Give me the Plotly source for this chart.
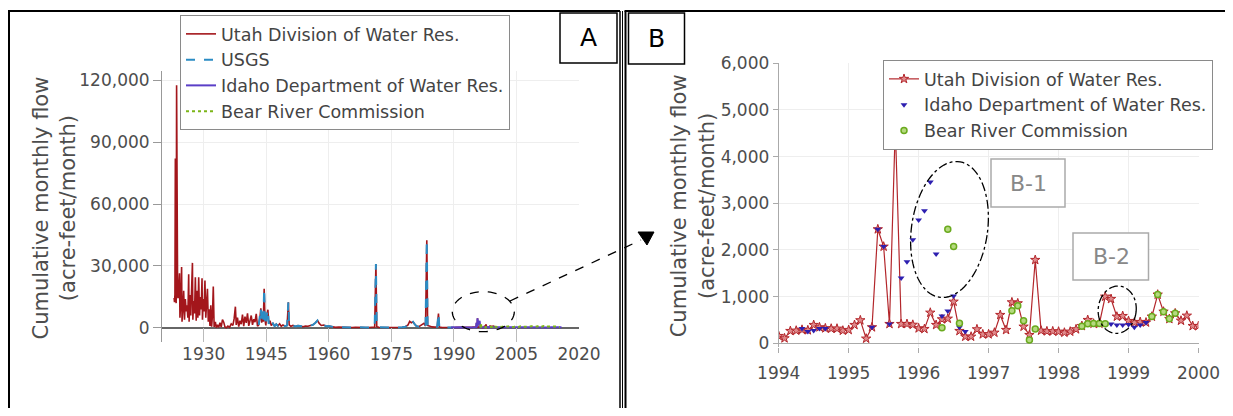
import numpy as np
import plotly.graph_objects as go

# The page keeps the browser's 8px body margin, so the figure is 16px smaller than the window
# and every position below is given in window pixels, shifted by that margin.
PAGE_W, PAGE_H, MARGIN = 1233, 416, 8
FW, FH = PAGE_W - 2 * MARGIN, PAGE_H - 2 * MARGIN
FONT = "DejaVu Sans"
TXT = "#4d4d4d"

# ---------------- Panel A data (decimal year, acre-feet/month) ----------------
utah_early_year = [1922.9, 1923.0, 1923.1, 1923.2, 1923.3, 1923.4, 1923.5, 1923.6, 1923.75, 1923.9,
                   1924.0, 1924.2, 1924.3, 1924.5, 1924.7, 1924.8,
                   1925.0, 1925.2, 1925.4, 1925.6, 1925.8,
                   1926.0, 1926.2, 1926.4, 1926.5, 1926.7, 1926.9,
                   1927.1, 1927.3, 1927.4, 1927.6, 1927.8,
                   1928.0, 1928.2, 1928.4, 1928.6, 1928.8,
                   1929.0, 1929.2, 1929.4, 1929.6, 1929.7, 1929.9,
                   1930.1, 1930.3, 1930.5, 1930.7, 1930.9,
                   1931.1, 1931.3, 1931.5, 1931.7, 1931.9,
                   1932.1, 1932.3, 1932.5, 1932.8,
                   1933.0, 1933.3, 1933.6, 1933.9,
                   1934.2, 1934.5, 1934.8,
                   1935.1, 1935.4, 1935.8,
                   1936.2, 1936.6,
                   1937.0, 1937.3, 1937.6, 1937.8,
                   1938.1, 1938.4, 1938.7,
                   1939.0, 1939.3, 1939.6, 1939.9,
                   1940.2, 1940.5, 1940.8,
                   1941.1, 1941.4, 1941.7,
                   1942.0, 1942.3, 1942.6, 1942.9]
utah_early_flow = [14500, 12500, 16000, 82000, 15000, 12000, 117500, 30000, 15000, 14500,
                   22000, 26500, 5000, 12000, 29500, 3000,
                   9000, 18000, 4000, 14000, 8000,
                   11000, 5000, 26000, 3000, 16000, 6000,
                   20000, 31500, 4000, 13000, 7000,
                   24500, 3500, 18000, 5000, 24500,
                   6000, 15000, 9000, 24000, 4000, 14000,
                   8000, 23000, 5000, 12000, 19000,
                   3000, 9000, 1000, 11000, 600,
                   6000, 20000, 500, 3000,
                   200, 1500, 300, 2500,
                   400, 4000, 2800,
                   500, 100, 900,
                   300, 2000,
                   1200, 4500, 10300, 1500,
                   5000, 600, 3500,
                   1800, 6500, 900, 5500,
                   2500, 7100, 1000,
                   3800, 6000, 1500,
                   4200, 2800, 6800, 900]

usgs_year = [1943.2, 1943.5, 1943.7, 1943.9, 1944.1, 1944.3, 1944.5, 1944.7, 1944.9,
             1945.1, 1945.4, 1945.6, 1945.9, 1946.2, 1946.6, 1947.0, 1947.4, 1947.8,
             1948.2, 1948.6, 1949.0, 1949.5, 1950.0, 1950.3, 1950.5, 1950.9, 1951.4,
             1952.0, 1952.6, 1953.2, 1953.8, 1954.4, 1955.0, 1955.6, 1956.2, 1956.8,
             1957.3, 1957.7, 1958.2, 1958.8, 1959.4, 1960.0, 1960.8, 1961.6, 1962.4,
             1963.2, 1964.0, 1964.8, 1965.6, 1966.4, 1967.2, 1968.0, 1968.8, 1969.6,
             1970.4, 1971.0, 1971.3, 1971.5, 1972.0, 1972.8, 1973.6, 1974.4, 1975.2,
             1976.0, 1976.8, 1977.6, 1978.4, 1979.0, 1979.4, 1979.8, 1980.2, 1980.6,
             1981.0, 1981.6, 1982.2, 1982.8, 1983.2, 1983.5, 1983.7, 1984.2, 1984.8,
             1985.4, 1986.0, 1986.3, 1986.5, 1987.0, 1987.8, 1988.6, 1989.4, 1990.0]
usgs_flow = [1500, 5200, 9500, 2500, 7800, 3000, 19000, 4000, 1200,
             6000, 8800, 2000, 3500, 1200, 2200, 900, 1800, 1000,
             2000, 800, 1500, 900, 1200, 12400, 1500, 800, 1200,
             700, 1100, 900, 600, 900, 800, 1200, 1500, 2500,
             3600, 2200, 1200, 1400, 800, 900, 500, 300, 400,
             300, 200, 300, 250, 350, 200, 300, 250, 200,
             300, 400, 31000, 600, 300, 250, 400, 300, 200,
             300, 250, 300, 600, 1500, 3200, 2500, 3000, 1800,
             900, 600, 1200, 2200, 900, 42500, 1200, 700, 500,
             400, 600, 7000, 500, 300, 200, 300, 200, 250]

utah_mid_year = [1990.5, 1991.2, 1992.0, 1992.8, 1993.5]
utah_mid_flow = [300, 250, 200, 300, 250]

idaho_pre_year = [1989.3, 1989.8, 1990.3, 1990.8, 1991.3, 1991.8, 1992.3, 1992.8, 1993.3, 1993.8]
idaho_pre_flow = [280, 350, 260, 300, 240, 320, 270, 310, 250, 290]
idaho_post_year = [1999.6, 2000.2, 2000.8, 2001.5, 2002.2, 2003.0, 2003.8, 2004.6, 2005.4, 2006.2, 2007.0,
                   2007.8, 2008.6, 2009.4, 2010.2, 2011.0, 2011.8, 2012.6, 2013.4, 2014.2, 2015.0, 2015.8]
idaho_post_flow = [380, 300, 350, 280, 320, 260, 300, 350, 280, 330, 270,
                   310, 360, 290, 340, 420, 300, 260, 310, 280, 330, 290]

brc_post_year = [2000.0, 2000.5, 2001.0, 2001.5, 2002.0, 2002.5, 2003.0, 2003.5, 2004.0, 2004.5, 2005.0,
                 2005.5, 2006.0, 2006.5, 2007.0, 2007.5, 2008.0, 2008.5, 2009.0, 2009.5, 2010.0, 2010.5,
                 2011.0, 2011.5, 2012.0, 2012.5, 2013.0, 2013.5, 2014.0, 2014.5, 2015.0, 2015.4]
brc_post_flow = [600, 450, 700, 500, 800, 550, 650, 900, 500, 600, 750,
                 450, 850, 600, 500, 700, 550, 800, 650, 500, 700, 1100,
                 600, 900, 500, 650, 750, 500, 600, 700, 550, 450]

# ---------------- Panel B data (monthly, Jan 1994 - Jan 2000) ----------------
utah_b_flow = [157, 107, 264, 271, 290, 280, 393, 343, 321, 314, 314, 271,
               286, 393, 493, 100, 343, 2443, 2072, 414, 4650, 414, 414, 397,
               321, 307, 656, 393, 514, 528, 892, 264, 142, 142, 300, 193,
               193, 228, 607, 286, 878, 857, 357, 178, 1786, 271, 257, 257,
               250, 228, 250, 300, 371, 500, 421, 421, 1000, 950, 571, 585,
               478, 442, 457, 446, 571, 1043, 678, 521, 642, 485, 592, 371,
               371]
idaho_b_month = ['1994-05', '1994-06', '1994-07', '1994-08', '1994-09',
                 '1995-05', '1995-06', '1995-07', '1995-08', '1995-09', '1995-10', '1995-11', '1995-12',
                 '1996-01', '1996-02', '1996-03', '1996-04', '1996-05', '1996-06', '1996-07', '1996-08', '1996-09',
                 '1998-10', '1998-11', '1998-12', '1999-01', '1999-02', '1999-03', '1999-04']
idaho_b_flow = [314, 250, 271, 314, 314,
                343, 2443, 2072, 414, 4650, 1400, 1749, 2221,
                2642, 2842, 3457, 1913, 585, 692, 1013, 343, 250,
                414, 392, 392, 403, 343, 392, 446]
brc_b_month = ['1996-05', '1996-06', '1996-07', '1996-08',
               '1997-05', '1997-06', '1997-07', '1997-08', '1997-09',
               '1998-05', '1998-06', '1998-07', '1998-08', '1998-09',
               '1999-05', '1999-06', '1999-07', '1999-08', '1999-09']
brc_b_flow = [335, 2443, 2072, 428,
              696, 804, 485, 71, 304,
              364, 417, 425, 425, 417,
              571, 1046, 678, 528, 642]

names = ["Utah Division of Water Res.", "USGS", "Idaho Department of Water Res.", "Bear River Commission"]
a_ticks = [1930, 1945, 1960, 1975, 1990, 2005, 2020]


def dec(m):
    y, mo = m.split('-')
    return int(y) + (int(mo) - 1) / 12


utah_b_year = [1994 + i / 12 for i in range(len(utah_b_flow))]
idaho_b_year = [dec(m) for m in idaho_b_month]
brc_b_year = [dec(m) for m in brc_b_month]

utah_a_year = utah_early_year + usgs_year + utah_mid_year + utah_b_year
utah_a_flow = utah_early_flow + usgs_flow + utah_mid_flow + utah_b_flow
idaho_a_year = idaho_pre_year + idaho_b_year + idaho_post_year
idaho_a_flow = idaho_pre_flow + idaho_b_flow + idaho_post_flow
brc_a_year = brc_b_year + brc_post_year
brc_a_flow = brc_b_flow + brc_post_flow

RED, BLUE, PURPLE, GREEN = "#a3161b", "#2b8cc4", "#5b3fc7", "#7cb518"


def px(x):
    return min(1.0, max(0.0, (x - MARGIN) / FW))


def py(y):
    return min(1.0, max(0.0, 1 - (y - MARGIN) / FH))


fig = go.Figure()
# Panel A
fig.add_trace(go.Scatter(x=utah_a_year, y=utah_a_flow, mode='lines', name=names[0],
                         line=dict(color=RED, width=1.6), xaxis='x', yaxis='y', legend='legend'))
fig.add_trace(go.Scatter(x=usgs_year, y=usgs_flow, mode='lines', name=names[1],
                         line=dict(color=BLUE, width=2, dash='dash'), xaxis='x', yaxis='y', legend='legend'))
fig.add_trace(go.Scatter(x=idaho_a_year, y=idaho_a_flow, mode='lines', name=names[2],
                         line=dict(color=PURPLE, width=2), xaxis='x', yaxis='y', legend='legend'))
fig.add_trace(go.Scatter(x=brc_a_year, y=brc_a_flow, mode='lines', name=names[3],
                         line=dict(color=GREEN, width=2, dash='dot'), xaxis='x', yaxis='y', legend='legend'))
# Panel B
fig.add_trace(go.Scatter(x=utah_b_year, y=utah_b_flow, mode='lines+markers', name=names[0],
                         line=dict(color="#b3262b", width=1.2),
                         marker=dict(symbol='star', size=7, color="#e08a8c", line=dict(color="#b3262b", width=1)),
                         xaxis='x2', yaxis='y2', legend='legend2'))
fig.add_trace(go.Scatter(x=idaho_b_year, y=idaho_b_flow, mode='markers', name=names[2],
                         marker=dict(symbol='triangle-down', size=6, color="#2d1fb0"),
                         xaxis='x2', yaxis='y2', legend='legend2'))
fig.add_trace(go.Scatter(x=brc_b_year, y=brc_b_flow, mode='markers', name=names[3],
                         marker=dict(symbol='circle', size=6, color="#b5d97f", line=dict(color="#6aaa1e", width=1.5)),
                         xaxis='x2', yaxis='y2', legend='legend2'))

tickfont = dict(family=FONT, size=17, color=TXT)
legfont = dict(family=FONT, size=17.5, color="#444444")

fig.update_layout(
    width=FW, height=FH, autosize=False, margin=dict(l=0, r=0, t=0, b=0, pad=0, autoexpand=False),
    paper_bgcolor='white', plot_bgcolor='white',
    font=dict(family=FONT, color=TXT),
    xaxis=dict(domain=[px(162), px(579)], range=[1920, 2020], tickmode='array', tickvals=a_ticks,
               showgrid=True, gridcolor='#eeeeee', zeroline=False, showline=False, automargin=False,
               ticks='inside', ticklen=14, tickcolor='#bbbbbb', tickfont=tickfont, anchor='y'),
    yaxis=dict(domain=[py(342), py(71)], range=[-6800, 124400], tick0=0, dtick=30000, tickformat=',',
               showgrid=True, gridcolor='#eeeeee', zeroline=True, zerolinecolor='#666666', zerolinewidth=1.5,
               showline=True, linecolor='#999999', linewidth=1, ticks='outside', ticklen=8, automargin=False,
               tickcolor='#999999', tickfont=tickfont, anchor='x'),
    xaxis2=dict(domain=[px(778.7), px(1198.5)], range=[1994, 2000], dtick=1, tick0=1994,
                showgrid=True, gridcolor='#eeeeee', zeroline=False, showline=False, automargin=False,
                ticks='outside', ticklen=5, tickcolor='#aaaaaa', tickfont=tickfont,
                ticklabelstandoff=6, anchor='y2'),
    yaxis2=dict(domain=[py(347), py(63.3)], range=[-80, 6000], tick0=0, dtick=1000, tickformat=',',
                showgrid=True, gridcolor='#eeeeee', zeroline=True, zerolinecolor='#aaaaaa', zerolinewidth=1,
                showline=True, linecolor='#aaaaaa', linewidth=1, ticks='outside', ticklen=5, automargin=False,
                tickcolor='#aaaaaa', tickfont=tickfont, anchor='x2'),
    legend=dict(x=px(180), y=py(15), xanchor='left', yanchor='top', bgcolor='white',
                bordercolor='#8a8a8a', borderwidth=1, font=legfont, itemwidth=30, tracegroupgap=0),
    legend2=dict(x=px(883), y=py(60), xanchor='left', yanchor='top', bgcolor='white',
                 bordercolor='#8a8a8a', borderwidth=1, font=legfont, itemwidth=30, tracegroupgap=0),
    showlegend=True,
)


def ellipse_path(cx, cy, rx, ry, tilt_deg, n=90):
    a = np.deg2rad(tilt_deg)
    th = np.linspace(0, 2 * np.pi, n)
    ex, ey = rx * np.cos(th), ry * np.sin(th)
    xs = cx + ex * np.cos(a) - ey * np.sin(a)
    ys = cy + ex * np.sin(a) + ey * np.cos(a)
    pts = [f"{px(x):.5f},{py(y):.5f}" for x, y in zip(xs, ys)]
    return "M " + " L ".join(pts) + " Z"


def rect(x0, y0, x1, y1, color='black', width=1.5, fill='rgba(0,0,0,0)'):
    return dict(type='rect', xref='paper', yref='paper', x0=px(x0), x1=px(x1), y0=py(y0), y1=py(y1),
                line=dict(color=color, width=width), fillcolor=fill, layer='above')


def seg(x0, y0, x1, y1, width=2, dash='solid'):
    return dict(type='line', xref='paper', yref='paper', x0=px(x0), x1=px(x1), y0=py(y0), y1=py(y1),
                line=dict(color='black', width=width, dash=dash))


shapes = [
    # panel frames (open at the bottom / right, as in the picture)
    seg(9, 11, 9, 416), seg(8, 11, 620, 11), seg(620, 11, 620, 416, width=1.5),
    seg(622.5, 11, 622.5, 416, width=1),
    seg(625.5, 11, 625.5, 416), seg(624.5, 11, 1233, 11),
    rect(560, 13, 617, 63, width=1.5, fill='white'),
    rect(628.5, 13, 684.5, 64, width=1.5, fill='white'),
    rect(991, 159, 1065, 207, color='#aaaaaa', width=1.5, fill='white'),
    rect(1073, 233, 1148.5, 280, color='#aaaaaa', width=1.5, fill='white'),
    dict(type='path', xref='paper', yref='paper', path=ellipse_path(483.3, 311.7, 31, 20, 0),
         line=dict(color='black', width=1.3, dash='dash')),
    dict(type='path', xref='paper', yref='paper', path=ellipse_path(949.5, 229.5, 38, 68.5, 8.4),
         line=dict(color='black', width=1.3, dash='dashdot')),
    dict(type='path', xref='paper', yref='paper', path=ellipse_path(1117.2, 309.7, 19, 23.7, 6),
         line=dict(color='black', width=1.3, dash='dashdot')),
    seg(510, 301, 641, 240, width=1.3, dash='dash'),
    dict(type='path', xref='paper', yref='paper',
         path=f"M {px(638):.5f},{py(232):.5f} L {px(654):.5f},{py(232):.5f} L {px(647):.5f},{py(245):.5f} Z",
         fillcolor='black', line=dict(color='black', width=1)),
]
fig.update_layout(shapes=shapes)

ann = [
    dict(x=px(588.5), y=py(38), text="A", font=dict(family=FONT, size=25, color='black')),
    dict(x=px(656.5), y=py(38.5), text="B", font=dict(family=FONT, size=25, color='black')),
    dict(x=px(1028), y=py(183), text="B-1", font=dict(family=FONT, size=22, color='#888888')),
    dict(x=px(1111), y=py(256.5), text="B-2", font=dict(family=FONT, size=22, color='#888888')),
    dict(x=px(53.5), y=py(208), text="Cumulative monthly flow<br>(acre-feet/month)", textangle=-90,
         font=dict(family=FONT, size=21, color=TXT)),
    dict(x=px(692.3), y=py(206), text="Cumulative monthly flow<br>(acre-feet/month)", textangle=-90,
         font=dict(family=FONT, size=21, color=TXT)),
]
for a in ann:
    a.update(xref='paper', yref='paper', showarrow=False, xanchor='center', yanchor='middle')
fig.update_layout(annotations=ann)

fig.write_html("out.html", include_plotlyjs=True, config={'displayModeBar': False})
